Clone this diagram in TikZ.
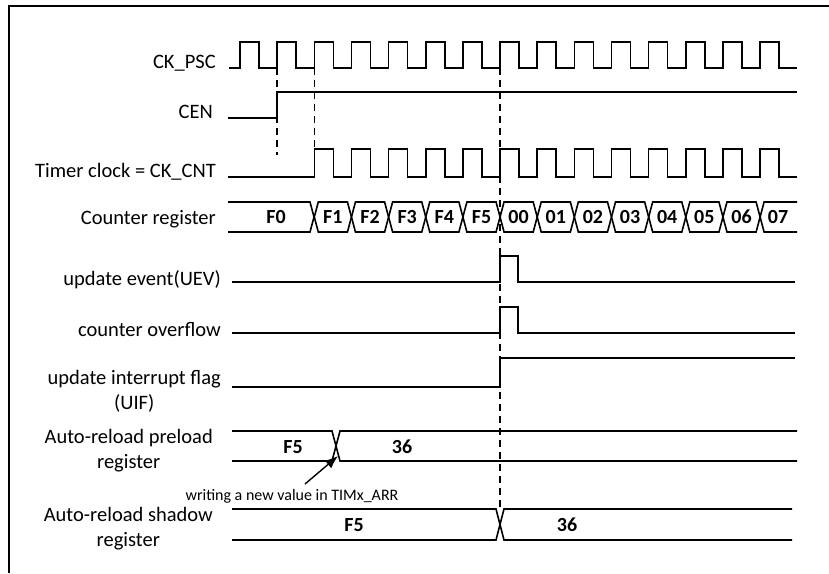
\documentclass[tikz,border=0pt]{standalone}
\usepackage{fontspec}
\setmainfont{Carlito}
\usetikzlibrary{arrows.meta}

\begin{document}
\begin{tikzpicture}[x=1pt, y=-1pt,
                sig/.style={line width=1.6pt, line join=miter},
                guide/.style={line width=1.4pt, dash pattern=on 7pt off 5pt},
                lbl/.style={font=\fontsize{20.5}{25}\selectfont, align=center, anchor=base east, inner sep=0pt},
                val/.style={font=\fontsize{20}{22}\selectfont\bfseries, inner sep=0pt},
                note/.style={font=\fontsize{16}{19}\selectfont, inner sep=0pt}]
                \useasboundingbox (0,0) rectangle (829,573);
                \draw[line width=1.4pt] (9,573) -- (9,6) -- (829,6);
                \node[lbl] (ckpsc) at (216,68) {CK\_PSC};
                \node[lbl] (cen) at (213,118) {CEN};
                \node[lbl] (tclk) at (216,177) {Timer clock = CK\_CNT};
                \node[lbl] (cntreg) at (216,224) {Counter register};
                \node[lbl] (uev) at (221,285) {update event(UEV)};
                \node[lbl] (ovf) at (221,336) {counter overflow};
                \node[lbl] (uif) at (221,409) {update interrupt flag\\(UIF)};
                \node[lbl] (arrpre) at (213,468) {Auto-reload preload\\register};
                \node[lbl] (arrsh) at (213,546) {Auto-reload shadow\\register};
                \draw[sig] (229,68) foreach \i in {0,...,14}{ -- ({240+37.15*\i},68) -- ++(0,-26) -- ++(19,0) -- ++(0,26)} -- (797,68);
                \draw[sig] (228,118) -- (277,118) -- (277,92) -- (797,92);
                \draw[sig] (228,177) foreach \i in {2,...,14}{ -- ({240+37.15*\i},177) -- ++(0,-28) -- ++(19,0) -- ++(0,28)} -- (797,177);
                \draw[guide] (277,68) -- (277,155);
                \draw[guide] (314.3,68) -- (314.3,149);
                \draw[guide] (500,68) -- (500,509);
                \draw[sig] (228,202) -- (310,202) -- (314,217) -- (310,232) -- (228,232);
                \node[val] (cnt1) at (276,217) {F0};
                \foreach \v [count=\k from 2] in {F1,F2,F3,F4,F5,00,01,02,03,04,05,06}{
                    \draw[sig] ({240+37.15*\k},217) -- ++(4,-15) -- ({236+37.15*(\k+1)},202) -- ++(4,15) -- ++(-4,15) -- ({244+37.15*\k},232) -- cycle;
                    \node[val] (cnt\k) at ({240+37.15*(\k+0.5)},217) {\v};
                }
                \draw[sig] (797,202) -- ({244+37.15*14},202) -- ({240+37.15*14},217) -- ({244+37.15*14},232) -- (797,232);
                \node[val] (cnt15) at (778,217) {07};
                \draw[sig] (232,282) -- (500,282) -- (500,256) -- (518,256) -- (518,282) -- (795,282);
                \draw[sig] (232,333) -- (500,333) -- (500,307) -- (518,307) -- (518,333) -- (795,333);
                \draw[sig] (232,387) -- (500,387) -- (500,358) -- (795,358);
                \draw[sig] (232,431) -- (332,431) -- (340,461) -- (797,461);
                \draw[sig] (232,461) -- (332,461) -- (340,431) -- (797,431);
                \node[val] (pre0) at (293,447) {F5};
                \node[val] (pre1) at (402,447) {36};
                \draw[sig] (232,509) -- (496,509) -- (504,540) -- (792,540);
                \draw[sig] (232,540) -- (496,540) -- (504,509) -- (792,509);
                \node[val] (sh0) at (354,525) {F5};
                \node[val] (sh1) at (567,525) {36};
                \node[note] (wr) at (292,496) {writing a new value in TIMx\_ARR};
                \coordinate (wrtail) at (305,484);
                \coordinate (wrtip) at (338,456);
                \draw[-{Latex[length=13pt,width=10pt]}, line width=1.4pt] (wrtail) -- (wrtip);
            \end{tikzpicture}
\end{document}
